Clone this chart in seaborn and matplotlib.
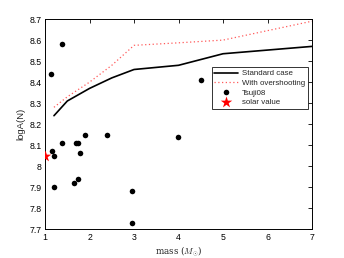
import matplotlib
import matplotlib.pyplot as plt
import pandas as pd
import seaborn as sns
from matplotlib.ticker import FormatStrFormatter, FuncFormatter

matplotlib.use("Agg")

# ---------------------------------------------------------------------------
# Data
# ---------------------------------------------------------------------------
model_mass = [1.2, 1.5, 2.0, 2.5, 3.0, 4.0, 5.0, 7.0]
standard_n = [8.24, 8.31, 8.37, 8.42, 8.46, 8.48, 8.535, 8.57]
overshoot_n = [8.28, 8.33, 8.40, 8.48, 8.575, 8.587, 8.60, 8.69]

tsuji_mass = [1.13, 1.37, 1.15, 1.20, 1.38, 1.69, 1.73, 1.89, 2.39, 1.79,
              1.19, 1.64, 1.73, 2.96, 2.96, 4.5, 3.99]
tsuji_n = [8.44, 8.58, 8.07, 8.05, 8.11, 8.11, 8.11, 8.15, 8.15, 8.06,
           7.90, 7.92, 7.94, 7.88, 7.73, 8.41, 8.14]

solar_mass = [1.0]
solar_n = [8.05]

x_ticks = [1, 2, 3, 4, 5, 6, 7]
y_ticks = [7.7, 7.8, 7.9, 8.0, 8.1, 8.2, 8.3, 8.4, 8.5, 8.6, 8.7]

models = pd.DataFrame({"mass": model_mass, "std": standard_n, "ovs": overshoot_n})
tsuji = pd.DataFrame({"mass": tsuji_mass, "n": tsuji_n})
solar = pd.DataFrame({"mass": solar_mass, "n": solar_n})

# ---------------------------------------------------------------------------
# Plot
# ---------------------------------------------------------------------------
sns.set_style("white")
plt.rcParams["font.family"] = ["Liberation Sans", "DejaVu Sans"]
plt.rcParams["mathtext.fontset"] = "cm"

fig = plt.figure(figsize=(3.44, 2.58), dpi=100)
ax = fig.add_axes([0.131, 0.112, 0.776, 0.814])

sns.lineplot(data=models, x="mass", y="std", ax=ax, color="black",
             linewidth=1.2, label="Standard case")
sns.lineplot(data=models, x="mass", y="ovs", ax=ax, color="#ff5a5a",
             linewidth=0.9, linestyle=(0, (1, 2)), label="With overshooting")
sns.scatterplot(data=tsuji, x="mass", y="n", ax=ax, color="black",
                s=16, linewidth=0, label="Tsuji08", zorder=3)
sns.scatterplot(data=solar, x="mass", y="n", ax=ax, color="red",
                marker="*", s=75, linewidth=0, label="solar value", zorder=4)

ax.set_xlim(1, 7)
ax.set_ylim(7.7, 8.7)
ax.set_xticks(x_ticks)
ax.set_yticks(y_ticks)
ax.xaxis.set_major_formatter(FormatStrFormatter("%g"))
ax.yaxis.set_major_formatter(FuncFormatter(lambda v, _: f"{round(v, 1):g}"))
ax.tick_params(direction="in", length=3, width=0.6, labelsize=6.3,
               top=True, right=True, pad=2.5, colors="black")
for sp in ax.spines.values():
    sp.set_visible(True)
    sp.set_color("black")
    sp.set_linewidth(0.7)

ax.set_xlabel(r"mass ($M_{\odot}$)", fontsize=6.3, family="DejaVu Serif",
              labelpad=2)
ax.set_ylabel("logA(N)", fontsize=6.8, family="Liberation Sans", labelpad=3)

leg = ax.legend(loc="upper right", bbox_to_anchor=(1.0, 0.79), fontsize=5.7,
                frameon=True, fancybox=False, edgecolor="black",
                handlelength=3.0, handletextpad=0.5, borderpad=0.35,
                labelspacing=0.25)
leg.get_frame().set_linewidth(0.7)

fig.savefig("out.png", dpi=100)
plt.close(fig)
